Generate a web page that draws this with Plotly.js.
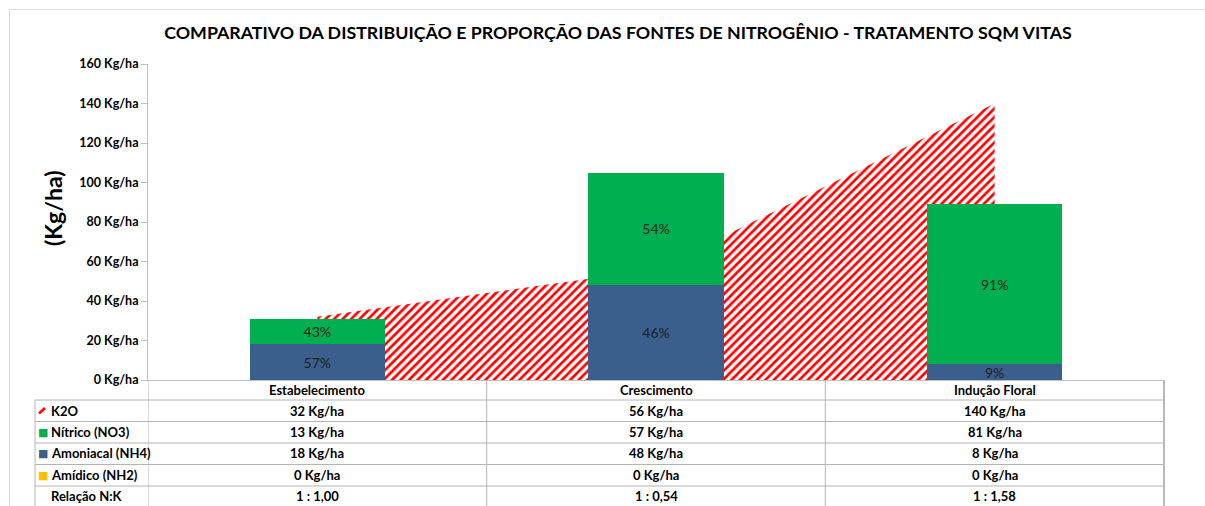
<!DOCTYPE html>
<html>
<head>
<meta charset="utf-8">
<script src="https://cdn.plot.ly/plotly-3.0.1.min.js"></script>
<style>html,body{margin:0;padding:0;background:#fff;}#chart{width:1205px;height:506px;}</style>
</head>
<body>
<div id="chart"></div>
<script>
// ---- data ----
const categories = ['Estabelecimento', 'Crescimento', 'Indução Floral'];
const k2o = [32, 56, 140];
const nitrico = [13, 57, 81];
const amoniacal = [18, 48, 8];
const amidico = [0, 0, 0];
const pctNitrico = ['43%', '54%', '91%'];
const pctAmoniacal = ['57%', '46%', '9%'];
const relacaoNK = ['1 : 1,00', '1 : 0,54', '1 : 1,58'];
const unit = ' Kg/ha';
const rowLabels = ['K2O', 'Nítrico (NO3)', 'Amoniacal (NH4)', 'Amídico (NH2)', 'Relação N:K'];
const chartTitle = 'COMPARATIVO DA DISTRIBUIÇÃO E PROPORÇÃO DAS FONTES DE NITROGÊNIO - TRATAMENTO SQM VITAS';

// ---- style ----
const W = 1205, H = 506;
const L = 148, R = 1164, T = 64, B = 380;
const FONT = 'Lato, "Open Sans", sans-serif';
const cBlue = '#3A5F8D', cGreen = '#00B050', cYellow = '#FFC000', cRed = '#FF0000';
const gridCol = '#b4b4b4';
const px = x => (x - L) / (R - L);
const py = y => (B - y) / (B - T);

const traces = [
  {
    type: 'scatter', name: 'K2O', x: categories, y: k2o,
    mode: 'none', fill: 'tozeroy',
    fillcolor: 'rgba(0,0,0,0)',
    fillpattern: {shape: '/', fgcolor: cRed, bgcolor: '#ffffff', size: 6, solidity: 0.45},
    xaxis: 'x', yaxis: 'y', hoverinfo: 'skip', showlegend: false
  },
  {
    type: 'bar', name: 'Amoniacal (NH4)', x: categories, y: amoniacal,
    marker: {color: cBlue}, text: pctAmoniacal, textposition: 'inside',
    insidetextanchor: 'middle', constraintext: 'none',
    textfont: {family: FONT, size: 14, color: '#1e1e1e'},
    width: 0.4, xaxis: 'x', yaxis: 'y2', hoverinfo: 'skip', showlegend: false
  },
  {
    type: 'bar', name: 'Nítrico (NO3)', x: categories, y: nitrico,
    marker: {color: cGreen}, text: pctNitrico, textposition: 'inside',
    insidetextanchor: 'middle', constraintext: 'none',
    textfont: {family: FONT, size: 14, color: '#1e1e1e'},
    width: 0.4, xaxis: 'x', yaxis: 'y2', hoverinfo: 'skip', showlegend: false
  },
  {
    type: 'bar', name: 'Amídico (NH2)', x: categories, y: amidico,
    marker: {color: cYellow, line: {width: 0}}, width: 0.4,
    xaxis: 'x', yaxis: 'y2', hoverinfo: 'skip', showlegend: false
  }
];

const annotations = [];
const shapes = [];

// y-axis title
annotations.push({
  xref: 'paper', yref: 'paper', x: px(53), y: py(208), text: '(Kg/ha)',
  textangle: -90, showarrow: false, xanchor: 'center', yanchor: 'middle',
  font: {family: FONT, size: 23, weight: 'bold', color: '#000'}
});

// table rows: pixel centers
const headerY = 390;
const rowY = [411, 432, 453.5, 475, 496];
const rowLines = [400, 421.5, 443, 464.5, 486];
const tblFont = {family: FONT, size: 13, weight: 'bold', color: '#000'};

// header (category names)
categories.forEach(c => annotations.push({
  xref: 'x', yref: 'paper', x: c, y: py(headerY), text: c, showarrow: false,
  xanchor: 'center', yanchor: 'middle', font: tblFont
}));

const rowValues = [
  k2o.map(v => v + unit),
  nitrico.map(v => v + unit),
  amoniacal.map(v => v + unit),
  amidico.map(v => v + unit),
  relacaoNK
];
rowValues.forEach((vals, r) => vals.forEach((v, i) => annotations.push({
  xref: 'x', yref: 'paper', x: categories[i], y: py(rowY[r]), text: v, showarrow: false,
  xanchor: 'center', yanchor: 'middle', font: tblFont
})));

// row labels
const icons = [null, cGreen, cBlue, cYellow, null];
rowLabels.forEach((lab, r) => {
  annotations.push({
    xref: 'paper', yref: 'paper', x: px(49), y: py(rowY[r]), text: lab, showarrow: false,
    xanchor: 'left', yanchor: 'middle', font: tblFont
  });
  if (icons[r]) annotations.push({
    xref: 'paper', yref: 'paper', x: px(43), y: py(rowY[r]), text: '■', showarrow: false,
    xanchor: 'center', yanchor: 'middle',
    font: {family: 'DejaVu Sans', size: 11, color: icons[r]}
  });
});
// K2O legend key (short red hatch stroke)
shapes.push({type: 'line', xref: 'paper', yref: 'paper', x0: px(39), x1: px(45), y0: py(rowY[0] + 2.5), y1: py(rowY[0] - 3),
  line: {color: cRed, width: 2.5}});

// table grid
const line = {color: gridCol, width: 1};
rowLines.forEach(y => shapes.push({
  type: 'line', xref: 'paper', yref: 'paper', x0: px(35), x1: px(R), y0: py(y), y1: py(y), line
}));
shapes.push({type: 'line', xref: 'paper', yref: 'paper', x0: px(35), x1: px(35), y0: py(400), y1: py(510), line});
[-0.5, 0.5, 1.5].forEach(x => shapes.push({
  type: 'line', xref: 'x', yref: 'paper', x0: x, x1: x, y0: py(380), y1: py(510), line
}));
shapes.push({type: 'line', xref: 'paper', yref: 'paper', x0: px(R), x1: px(R), y0: py(380), y1: py(510),
  line: {color: '#b8b8b8', width: 2}});
// outer chart frame
const frame = {color: '#d9d9d9', width: 1};
shapes.push({type: 'line', xref: 'paper', yref: 'paper', x0: px(9), x1: px(1210), y0: py(9.5), y1: py(9.5), line: frame});
shapes.push({type: 'line', xref: 'paper', yref: 'paper', x0: px(9.5), x1: px(9.5), y0: py(9.5), y1: py(510), line: frame});

const layout = {
  width: W, height: H,
  margin: {l: L, r: W - R, t: T, b: H - B, pad: 0},
  paper_bgcolor: '#fff', plot_bgcolor: 'rgba(0,0,0,0)',
  barmode: 'stack', showlegend: false, hovermode: false,
  title: {
    text: chartTitle, xref: 'container', yref: 'container',
    x: 618 / W, y: 1 - 33 / H, xanchor: 'center', yanchor: 'middle',
    font: {family: FONT, size: 17.8, weight: 'bold', color: '#000'}
  },
  xaxis: {
    type: 'category', range: [-0.5, 2.5], showticklabels: false, ticks: '',
    showline: true, linecolor: '#bfbfbf', linewidth: 1, showgrid: false, zeroline: false, fixedrange: true
  },
  yaxis: {
    range: [0, 160], dtick: 20, ticksuffix: unit, ticks: 'outside', ticklen: 6, tickcolor: '#bfbfbf',
    showline: true, linecolor: '#bfbfbf', linewidth: 1, showgrid: false, zeroline: false, fixedrange: true,
    tickfont: {family: FONT, size: 12.5, weight: 'bold', color: '#000'}
  },
  yaxis2: {
    overlaying: 'y', range: [0, 160], visible: false, showgrid: false, zeroline: false, fixedrange: true
  },
  annotations, shapes
};

Plotly.newPlot('chart', traces, layout, {staticPlot: true, displayModeBar: false});
</script>
</body>
</html>
